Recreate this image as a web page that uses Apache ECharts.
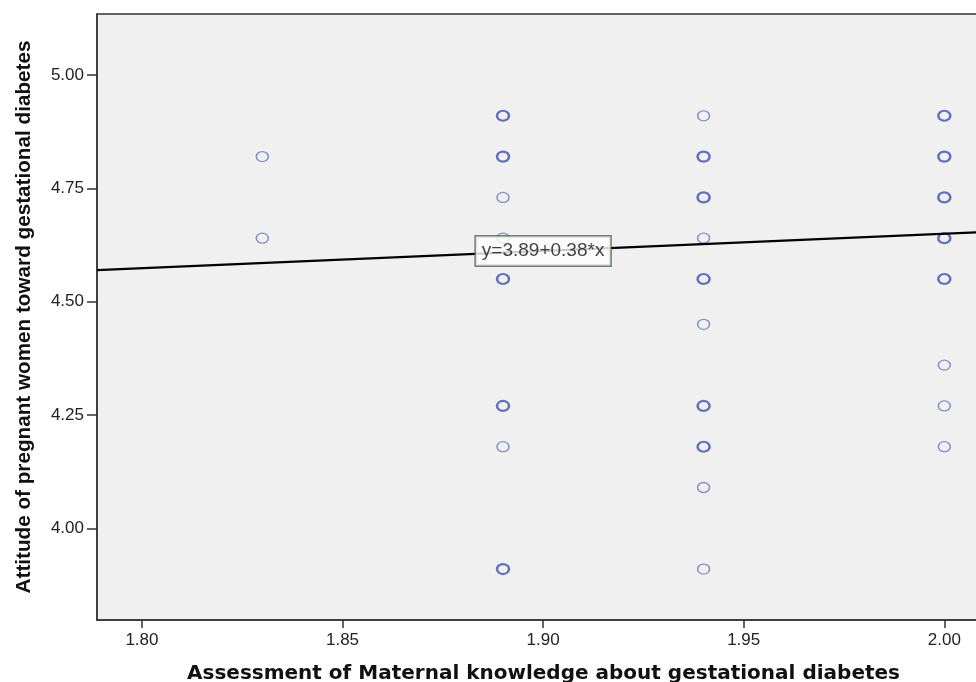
<!DOCTYPE html>
<html>
<head>
<meta charset="utf-8">
<script src="https://cdn.jsdelivr.net/npm/echarts@6/dist/echarts.min.js"></script>
<style>html,body{margin:0;padding:0;background:#fff}#c{width:976px;height:682px}</style>
</head>
<body>
<div id="c"></div>
<script>
// x levels and the y values observed at each level; counts mark overlapping (bolder) points
const xLevels = [1.83, 1.89, 1.94, 2.00];
const yAt183 = [4.82, 4.64];
const nAt183 = [1, 1];
const yAt189 = [4.91, 4.82, 4.73, 4.64, 4.55, 4.27, 4.18, 3.91];
const nAt189 = [2, 2, 1, 1, 2, 2, 1, 2];
const yAt194 = [4.91, 4.82, 4.73, 4.64, 4.55, 4.45, 4.27, 4.18, 4.09, 3.91];
const nAt194 = [1, 2, 2, 1, 2, 1, 2, 2, 1, 1];
const yAt200 = [4.91, 4.82, 4.73, 4.64, 4.55, 4.36, 4.27, 4.18];
const nAt200 = [2, 2, 2, 2, 2, 1, 1, 1];
const xTicks = [1.80, 1.85, 1.90, 1.95, 2.00];
const yTicks = [4.00, 4.25, 4.50, 4.75, 5.00];
const fitIntercept = 3.89;
const fitSlope = 0.38;
const fitLabel = 'y=3.89+0.38*x';
const fitLabelX = 1.90;
const xTitle = 'Assessment of Maternal knowledge about gestational diabetes';
const yTitle = 'Attitude of pregnant women toward gestational diabetes';

const xMin = 1.7888, xMax = 2.0084, yMin = 3.7977, yMax = 5.1346;

const cols = [[yAt183, nAt183], [yAt189, nAt189], [yAt194, nAt194], [yAt200, nAt200]];
const pts = [];
cols.forEach(function (c, i) {
  c[0].forEach(function (y, j) {
    const n = c[1][j];
    pts.push({
      value: [xLevels[i], y],
      itemStyle: {
        color: 'rgba(0,0,0,0)',
        borderColor: n > 1 ? '#3c50b2' : '#6477c6',
        borderWidth: n > 1 ? 2.3 : 1.4
      }
    });
  });
});

const fitLine = [[xMin, fitIntercept + fitSlope * xMin], [xMax, fitIntercept + fitSlope * xMax]];

const chart = echarts.init(document.getElementById('c'), null, {renderer: 'canvas'});
chart.setOption({
  animation: false,
  grid: {left: 97, top: 14, right: -2, bottom: 62, outerBoundsMode: 'none', containLabel: false,
    show: true, backgroundColor: '#f0f0f0', borderColor: '#333', borderWidth: 1.5},
  xAxis: {
    type: 'value', min: xMin, max: xMax,
    name: xTitle, nameLocation: 'middle', nameGap: 44,
    nameTextStyle: {fontFamily: 'DejaVu Sans', fontWeight: 'bold', fontSize: 20, color: '#111', padding: [0, 0, 0, 12]},
    axisLine: {show: true, lineStyle: {color: '#333', width: 1.5}},
    axisTick: {show: true, length: 8, inside: false, customValues: xTicks, lineStyle: {color: '#333', width: 1.5}},
    axisLabel: {customValues: xTicks, margin: 12, fontFamily: 'Liberation Sans', fontSize: 17, color: '#222',
      formatter: function (v) { return v.toFixed(2); }},
    splitLine: {show: false}
  },
  yAxis: {
    type: 'value', min: yMin, max: yMax,
    name: yTitle, nameLocation: 'middle', nameGap: 62,
    nameTextStyle: {fontFamily: 'Liberation Sans', fontWeight: 'bold', fontSize: 20.7, color: '#111'},
    axisLine: {show: true, lineStyle: {color: '#333', width: 1.5}},
    axisTick: {show: true, length: 10, inside: false, customValues: yTicks, lineStyle: {color: '#333', width: 1.5}},
    axisLabel: {customValues: yTicks, margin: 13, fontFamily: 'Liberation Sans', fontSize: 17, color: '#222',
      formatter: function (v) { return v.toFixed(2); }},
    splitLine: {show: false}
  },
  series: [
    {
      type: 'scatter', data: pts, symbol: 'circle', symbolSize: [12, 10], z: 2
    },
    {
      type: 'line', data: fitLine, symbol: 'none', z: 3,
      lineStyle: {color: '#000', width: 2.2}
    },
    {
      type: 'scatter', z: 5, symbolSize: 0,
      data: [[fitLabelX, fitIntercept + fitSlope * fitLabelX]],
      label: {
        show: true, position: 'inside', formatter: fitLabel, offset: [0, 0],
        fontFamily: 'Liberation Sans', fontSize: 19, color: '#111',
        backgroundColor: '#fff', borderColor: '#4d664d', borderWidth: 1.5,
        padding: [5, 6, 4, 6], lineHeight: 20
      }
    }
  ]
});
</script>
</body>
</html>
